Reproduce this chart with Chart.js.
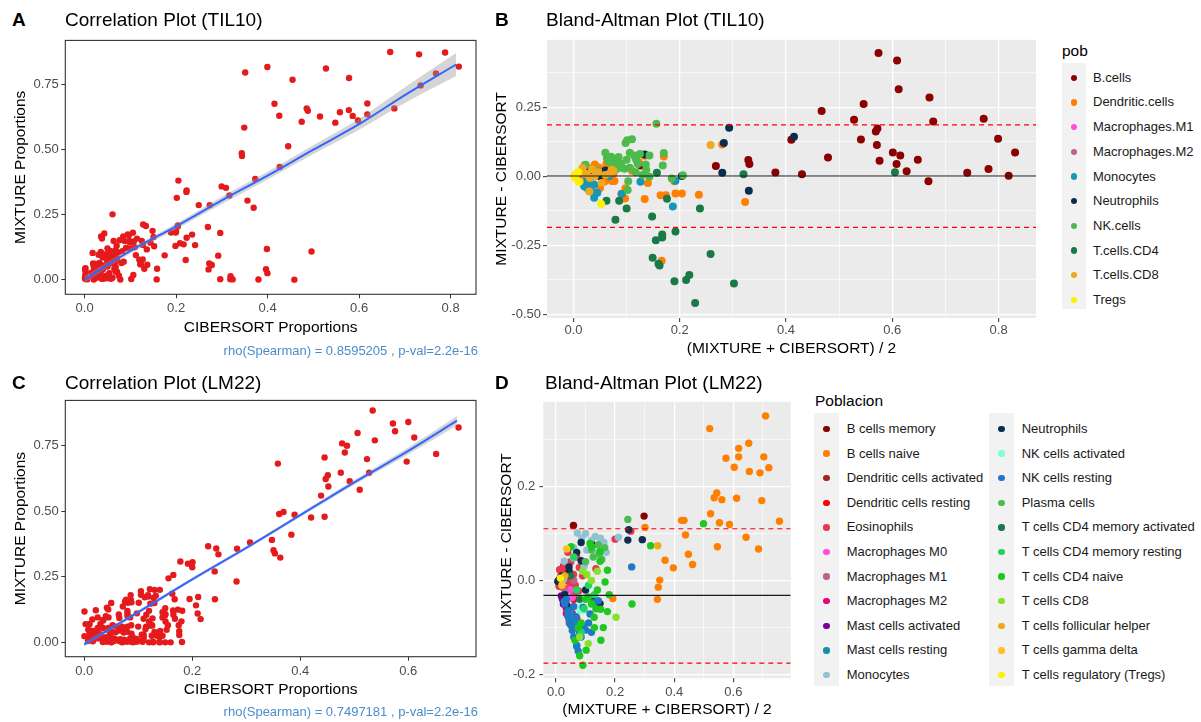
<!DOCTYPE html>
<html><head><meta charset="utf-8"><title>MIXTURE vs CIBERSORT</title>
<script src="https://cdn.jsdelivr.net/npm/chart.js@4.4.1/dist/chart.umd.min.js"></script>
<style>
html,body{margin:0;padding:0;background:#fff}
body{position:relative;width:1201px;height:722px;overflow:hidden;font-family:'Liberation Sans',Arial,sans-serif}
canvas{position:absolute}
.tx{position:absolute;line-height:0;white-space:nowrap;color:#000}
.key{position:absolute;background:#F2F2F2}
.dot{position:absolute;border-radius:50%}
</style></head>
<body>
<canvas id="cA"></canvas><canvas id="cB"></canvas><canvas id="cC"></canvas><canvas id="cD"></canvas>
<script>
const FONT = "'Liberation Sans', Arial, sans-serif";

// ===================== DATA =====================
// TIL10 populations: each point = [ (MIXTURE+CIBERSORT)/2 , MIXTURE-CIBERSORT ]
const popTIL = ['B.cells','Dendritic.cells','Macrophages.M1','Macrophages.M2','Monocytes','Neutrophils','NK.cells','T.cells.CD4','T.cells.CD8','Tregs'];
const colTIL = ['#8B0000','#FF7F00','#FF4FD8','#BF5F8F','#1797B5','#0B2E4F','#4CBB4C','#1A7A47','#F0A820','#FFF000'];
const tilBcells = [[0.574,0.446],[0.609,0.419],[0.612,0.315],[0.670,0.285],[0.677,0.198],[0.546,0.262],[0.467,0.236],[0.528,0.205],[0.772,0.208],[0.572,0.173],[0.569,0.162],[0.541,0.133],[0.799,0.136],[0.571,0.113],[0.831,0.086],[0.601,0.086],[0.615,0.075],[0.479,0.068],[0.648,0.060],[0.576,0.056],[0.608,0.044],[0.781,0.026],[0.627,0.018],[0.741,0.013],[0.380,0.014],[0.430,0.007],[0.819,0.002],[0.668,-0.018],[0.410,0.132],[0.329,0.059],[0.331,0.044],[0.268,0.037],[0.127,0.039]];
const tilDendritic = [[0.166,-0.306],[0.236,-0.067],[0.204,-0.062],[0.192,-0.062],[0.164,-0.069],[0.174,-0.069],[0.134,-0.082],[0.140,-0.024],[0.097,-0.080],[0.090,-0.063],[0.323,-0.093],[0.280,0.115],[0.170,0.072],[0.050,-0.042],[0.077,-0.017],[0.190,-0.018],[0.042,0.036],[0.134,0.074],[0.123,0.051],[0.098,-0.043],[0.072,-0.017],[0.048,0.031],[0.040,0.043],[0.049,-0.038],[0.021,0.040],[0.065,0.030],[0.075,0.008],[0.030,-0.010],[0.058,-0.020],[0.110,0.020],[0.062,0.045],[0.035,0.030]];
const tilMacM1 = [[0.020,0.010],[0.015,-0.005]];
const tilMacM2 = [[0.018,0.000],[0.025,0.005]];
const tilMonocytes = [[0.187,-0.109],[0.039,-0.078],[0.027,-0.044],[0.034,-0.054],[0.022,-0.038],[0.031,-0.032],[0.091,-0.064],[0.126,-0.020],[0.192,-0.016],[0.067,0.000],[0.039,-0.030],[0.072,0.051],[0.025,-0.025],[0.018,-0.020],[0.045,-0.060],[0.020,-0.035]];
const tilNeutrophils = [[0.415,0.143],[0.293,0.176],[0.283,0.120],[0.280,0.013],[0.330,-0.052],[0.134,0.079],[0.060,0.021],[0.058,0.008],[0.028,0.015],[0.030,0.004],[0.204,0.001],[0.045,0.010],[0.035,0.022],[0.050,0.000]];
const tilNK = [[0.156,0.190],[0.098,0.120],[0.101,0.130],[0.110,0.134],[0.060,0.085],[0.106,0.085],[0.114,0.075],[0.125,0.081],[0.143,0.075],[0.170,0.084],[0.168,0.039],[0.071,0.071],[0.083,0.054],[0.121,0.044],[0.136,0.043],[0.137,0.024],[0.089,0.031],[0.096,0.027],[0.106,0.031],[0.117,0.015],[0.206,0.004],[0.185,-0.008],[0.103,-0.018],[0.102,-0.050],[0.143,-0.002],[0.023,0.042],[0.066,0.054],[0.075,0.040],[0.090,0.045],[0.130,0.005],[0.118,0.060],[0.100,0.060],[0.080,0.025],[0.045,0.020],[0.063,0.065],[0.085,0.070]];
const tilCD4 = [[0.229,-0.459],[0.302,-0.388],[0.190,-0.380],[0.218,-0.357],[0.212,-0.375],[0.160,-0.317],[0.162,-0.323],[0.149,-0.295],[0.258,-0.281],[0.192,-0.200],[0.167,-0.211],[0.167,-0.222],[0.155,-0.232],[0.148,-0.146],[0.079,-0.157],[0.238,-0.117],[0.100,-0.117],[0.062,-0.089],[0.086,-0.089],[0.176,-0.081],[0.157,0.013],[0.320,0.007],[0.605,0.015]];
const tilCD8 = [[0.258,0.113],[0.017,0.030],[0.025,0.009],[0.047,0.015],[0.069,0.012],[0.072,0.024],[0.053,-0.024],[0.012,-0.018],[0.031,-0.006],[0.035,0.025],[0.060,0.005],[0.020,0.010],[0.040,0.000],[0.075,0.020],[0.030,-0.055]];
const tilTregs = [[0.052,-0.100],[0.002,0.002],[0.009,0.015],[0.010,-0.020],[0.003,-0.005],[0.005,0.008]];
const groupsTIL = [tilBcells,tilDendritic,tilMacM1,tilMacM2,tilMonocytes,tilNeutrophils,tilNK,tilCD4,tilCD8,tilTregs];
const baTIL_mean = 0.001, baTIL_upper = 0.186, baTIL_lower = -0.185;

// LM22 populations: each point = [ mean , difference ]
const popLM = ['B cells memory','B cells naive','Dendritic cells activated','Dendritic cells resting','Eosinophils','Macrophages M0','Macrophages M1','Macrophages M2','Mast cells activated','Mast cells resting','Monocytes','Neutrophils','NK cells activated','NK cells resting','Plasma cells','T cells CD4 memory activated','T cells CD4 memory resting','T cells CD4 naive','T cells CD8','T cells follicular helper','T cells gamma delta','T cells regulatory (Tregs)'];
const colLM = ['#8B0000','#FF7F00','#A52424','#FF0000','#E8384F','#FF4FD8','#BF5F8F','#E6007E','#7A0099','#1790A5','#8FC3D1','#0B2E4F','#7FFFD4','#1F78C8','#4DBB55','#1A7A47','#1FD660','#1EC81E','#86E22A','#F2A81D','#FFC022','#FFF000'];
const lmBmem = [[0.059,0.117],[0.298,0.137]];
const lmBnaive = [[0.709,0.350],[0.520,0.323],[0.652,0.292],[0.618,0.281],[0.618,0.263],[0.575,0.260],[0.703,0.263],[0.603,0.241],[0.720,0.240],[0.654,0.232],[0.690,0.229],[0.544,0.186],[0.535,0.176],[0.561,0.172],[0.611,0.175],[0.696,0.170],[0.523,0.142],[0.425,0.128],[0.433,0.128],[0.756,0.126],[0.553,0.123],[0.587,0.119],[0.438,0.097],[0.301,0.113],[0.643,0.092],[0.546,0.072],[0.685,0.067],[0.448,0.056],[0.462,0.034],[0.369,0.043],[0.397,0.027],[0.351,0.001],[0.346,-0.014],[0.343,-0.040],[0.192,-0.038]];
const lmDCact = [[0.030,0.010],[0.045,0.005]];
const lmDCrest = [[0.020,0.015],[0.040,0.030],[0.055,-0.020],[0.060,-0.040],[0.025,0.030],[0.035,-0.050],[0.070,-0.080]];
const lmEos = [[0.012,0.023],[0.016,0.009],[0.010,-0.012],[0.025,-0.015],[0.079,0.028],[0.135,0.025],[0.200,0.088],[0.253,0.105],[0.047,-0.005],[0.076,-0.022],[0.030,0.027],[0.059,0.013],[0.038,-0.019],[0.020,0.020],[0.045,0.020],[0.065,-0.010],[0.030,0.000],[0.018,0.010],[0.028,0.035],[0.050,0.040],[0.070,0.050],[0.090,0.010],[0.060,-0.030],[0.040,0.060]];
const lmM0 = [[0.055,-0.036],[0.048,-0.020]];
const lmM1 = [[0.030,-0.020],[0.060,0.000]];
const lmM2 = [[0.045,-0.085],[0.035,-0.060],[0.055,-0.070],[0.035,-0.070]];
const lmMastAct = [[0.018,-0.033],[0.026,-0.049],[0.022,-0.040],[0.025,-0.050]];
const lmMastRest = [[0.034,-0.050],[0.040,-0.064],[0.042,-0.078],[0.050,-0.070],[0.028,-0.045],[0.045,-0.090],[0.055,-0.085],[0.060,-0.100],[0.065,-0.090],[0.070,-0.140]];
const lmMono = [[0.072,0.101],[0.133,0.094],[0.162,0.081],[0.211,0.092],[0.104,0.065],[0.028,0.041],[0.087,0.090],[0.059,0.048],[0.116,0.070],[0.142,0.060],[0.025,0.002],[0.095,0.030],[0.100,0.100],[0.120,0.085],[0.170,0.060],[0.150,0.090],[0.060,0.070]];
const lmNeut = [[0.246,0.108],[0.243,0.086],[0.292,0.087],[0.085,0.081],[0.124,0.075],[0.085,0.042],[0.044,0.029],[0.044,0.019],[0.006,-0.002],[0.010,0.002],[0.039,-0.055],[0.149,-0.049],[0.129,-0.043],[0.070,0.060],[0.100,-0.020],[0.020,0.010],[0.030,-0.030]];
const lmNKact = [[0.087,-0.055],[0.095,-0.062],[0.082,-0.063]];
const lmNKrest = [[0.256,0.029],[0.059,-0.099],[0.070,-0.138],[0.092,-0.097],[0.126,-0.047],[0.115,-0.071],[0.042,-0.064],[0.055,-0.106],[0.092,-0.057],[0.068,-0.077],[0.048,-0.089],[0.143,-0.043],[0.100,-0.105],[0.080,-0.110],[0.035,-0.040],[0.060,-0.055],[0.065,-0.125],[0.050,-0.095],[0.075,-0.150],[0.085,-0.120],[0.110,-0.090],[0.120,-0.110],[0.040,-0.075],[0.030,-0.050],[0.060,-0.120]];
const lmPlasma = [[0.243,0.130],[0.147,0.056],[0.143,0.076],[0.126,0.050],[0.120,0.065],[0.155,0.045],[0.100,0.040],[0.165,0.070]];
const lmCD4ma = [[0.050,0.010],[0.080,-0.040]];
const lmCD4mr = [[0.070,-0.020],[0.095,-0.060],[0.060,0.050],[0.110,-0.010],[0.085,-0.110],[0.130,-0.030]];
const lmCD4n = [[0.499,0.121],[0.320,0.074],[0.257,-0.050],[0.174,0.022],[0.166,-0.003],[0.149,0.041],[0.174,-0.066],[0.152,-0.127],[0.102,-0.148],[0.091,-0.180],[0.064,-0.127],[0.051,0.072],[0.115,0.079],[0.121,0.072],[0.149,0.062],[0.151,-0.061],[0.129,-0.078],[0.109,-0.035],[0.140,-0.020],[0.075,-0.100],[0.085,-0.090],[0.130,-0.100],[0.100,-0.040],[0.120,-0.050],[0.135,-0.060],[0.160,-0.100],[0.180,-0.030],[0.080,-0.160]];
const lmCD8 = [[0.203,-0.078],[0.109,-0.134],[0.104,0.013],[0.090,0.020],[0.120,0.000],[0.140,0.020],[0.080,-0.120]];
const lmTfh = [[0.344,0.074],[0.030,0.010]];
const lmTgd = [[0.036,0.067],[0.020,-0.010]];
const lmTregs = [[0.015,0.005]];
const groupsLM = [lmBmem,lmBnaive,lmDCact,lmDCrest,lmEos,lmM0,lmM1,lmM2,lmMastAct,lmMastRest,lmMono,lmNeut,lmNKact,lmNKrest,lmPlasma,lmCD4ma,lmCD4mr,lmCD4n,lmCD8,lmTfh,lmTgd,lmTregs];
const baLM_mean = -0.0315, baLM_upper = 0.110, baLM_lower = -0.1755;

// smooth fits
const fitTIL_x  = [0, 0.1, 0.2, 0.3, 0.4, 0.5, 0.6, 0.7, 0.812];
const fitTIL_y  = [0.000, 0.110, 0.205, 0.305, 0.400, 0.500, 0.598, 0.710, 0.828];
const fitTIL_lo = [-0.013, 0.100, 0.194, 0.291, 0.385, 0.483, 0.577, 0.680, 0.784];
const fitTIL_hi = [0.013, 0.120, 0.216, 0.319, 0.415, 0.517, 0.619, 0.740, 0.872];
const fitLM_x  = [0, 0.1, 0.2, 0.3, 0.4, 0.5, 0.6, 0.69];
const fitLM_y  = [-0.008, 0.115, 0.240, 0.360, 0.485, 0.610, 0.730, 0.845];
const fitLM_lo = [-0.016, 0.108, 0.234, 0.354, 0.478, 0.601, 0.717, 0.827];
const fitLM_hi = [0.000, 0.122, 0.246, 0.366, 0.492, 0.619, 0.743, 0.863];

// axes: ranges, ticks, labels
const rangeA_x = [-0.0422, 0.8555], rangeA_y = [-0.0569, 0.9208];
const rangeB_x = [-0.0498, 0.8704], rangeB_y = [-0.513, 0.494];
const rangeC_x = [-0.035, 0.7253], rangeC_y = [-0.0548, 0.9224];
const rangeD_x = [-0.043, 0.794], rangeD_y = [-0.2078, 0.38];
const ticksA_x = [0, 0.2, 0.4, 0.6, 0.8], labelsA_x = ['0.0','0.2','0.4','0.6','0.8'];
const ticksA_y = [0, 0.25, 0.5, 0.75], labelsA_y = ['0.00','0.25','0.50','0.75'];
const ticksB_x = [0, 0.2, 0.4, 0.6, 0.8], minorB_x = [0.1, 0.3, 0.5, 0.7], labelsB_x = ['0.0','0.2','0.4','0.6','0.8'];
const ticksB_y = [-0.5, -0.25, 0, 0.25], minorB_y = [-0.375, -0.125, 0.125, 0.375], labelsB_y = ['-0.50','-0.25','0.00','0.25'];
const ticksC_x = [0, 0.2, 0.4, 0.6], labelsC_x = ['0.0','0.2','0.4','0.6'];
const ticksD_x = [0, 0.2, 0.4, 0.6], minorD_x = [0.1, 0.3, 0.5, 0.7], labelsD_x = ['0.0','0.2','0.4','0.6'];
const ticksD_y = [-0.2, 0, 0.2], minorD_y = [-0.1, 0.1, 0.3], labelsD_y = ['-0.2','0.0','0.2'];

// ===================== HELPERS =====================
const toXY = arr => arr.map(p => ({x: p[0], y: p[1]}));
const toCorr = groups => { const out = []; groups.forEach(g => g.forEach(p => out.push({x: p[0] - p[1] / 2, y: p[0] + p[1] / 2}))); return out; };
const curve = (xs, ys) => xs.map((x, i) => ({x, y: ys[i]}));
const near = (list, v) => list.some(m => Math.abs(m - v) < 1e-9);

const panelPlugin = {
  id: 'panel',
  beforeDraw(chart, args, o) {
    if (!o || !o.bg) return;
    const {ctx, chartArea: a} = chart;
    ctx.save(); ctx.fillStyle = o.bg; ctx.fillRect(a.left, a.top, a.right - a.left, a.bottom - a.top); ctx.restore();
  },
  afterDraw(chart, args, o) {
    if (!o || !o.border) return;
    const {ctx, chartArea: a} = chart;
    ctx.save(); ctx.strokeStyle = o.border; ctx.lineWidth = 1.1; ctx.strokeRect(a.left, a.top, a.right - a.left, a.bottom - a.top); ctx.restore();
  }
};

function axis(c) {
  const all = c.major.concat(c.minor || []).sort((a, b) => a - b);
  return {
    type: 'linear', min: c.range[0], max: c.range[1],
    afterBuildTicks: s => { s.ticks = all.map(v => ({value: v})); },
    afterFit: s => { if (c.horiz) s.height = c.size; else s.width = c.size; },
    ticks: {autoSkip: false, maxRotation: 0, minRotation: 0, padding: c.tickPad, color: '#4D4D4D',
      font: {family: FONT, size: 13, lineHeight: 1.2},
      callback: v => { const i = c.major.findIndex(m => Math.abs(m - v) < 1e-9); return i < 0 ? '' : c.labels[i]; }},
    grid: c.grey ? {
      drawOnChartArea: true, color: '#FFFFFF',
      lineWidth: k => (k.tick && near(c.major, k.tick.value)) ? 1.3 : 0.6,
      drawTicks: true, tickLength: 4, tickWidth: 1,
      tickColor: k => (k.tick && near(c.major, k.tick.value)) ? '#333333' : 'rgba(0,0,0,0)'
    } : {drawOnChartArea: false, drawTicks: true, tickLength: 4, tickWidth: 1, tickColor: '#333333'},
    border: {display: false},
    title: {display: true, text: c.title, color: '#000000', font: {family: FONT, size: 15.5, lineHeight: 1.2},
      padding: c.horiz ? {top: 0, bottom: c.titlePad} : {top: c.titlePad, bottom: 0}}
  };
}

function build(id, box, area, xc, yc, datasets, panel) {
  const cv = document.getElementById(id);
  cv.width = box.w; cv.height = box.h;
  Object.assign(cv.style, {left: box.l + 'px', top: box.t + 'px', width: box.w + 'px', height: box.h + 'px'});
  xc.horiz = true; xc.size = box.t + box.h - area.b;
  yc.horiz = false; yc.size = area.l - box.l;
  return new Chart(cv, {
    type: 'scatter',
    data: {datasets},
    options: {
      responsive: false, animation: false, devicePixelRatio: 1, events: [],
      layout: {padding: {left: 0, top: area.t - box.t, right: box.l + box.w - area.r, bottom: 0}},
      plugins: {legend: {display: false}, tooltip: {enabled: false}, panel},
      scales: {x: axis(xc), y: axis(yc)}
    },
    plugins: [panelPlugin]
  });
}

function corrDatasets(groups, fx, fy, flo, fhi) {
  const smooth = {showLine: true, pointRadius: 0, cubicInterpolationMode: 'monotone'};
  return [
    {data: toCorr(groups), backgroundColor: '#E41A1C', pointRadius: 3.2, pointBorderWidth: 0, order: 3},
    Object.assign({data: curve(fx, flo), borderWidth: 1, borderColor: 'rgba(0,0,0,0)', fill: false, order: 2}, smooth),
    Object.assign({data: curve(fx, fhi), borderWidth: 1, borderColor: 'rgba(0,0,0,0)', fill: '-1', backgroundColor: 'rgba(150,150,150,0.4)', order: 2}, smooth),
    Object.assign({data: curve(fx, fy), borderColor: '#3366FF', borderWidth: 2, fill: false, order: 1}, smooth)
  ];
}

function baDatasets(groups, cols, rx, mean, up, lo, r) {
  const n = groups.length;
  const ds = groups.map((g, i) => ({data: toXY(g), backgroundColor: cols[i], pointRadius: r, pointBorderWidth: 0, order: 10 + (n - i)}));
  const h = (v, c, w, dash) => ({data: [{x: rx[0], y: v}, {x: rx[1], y: v}], showLine: true, pointRadius: 0, borderColor: c, borderWidth: w, borderDash: dash, fill: false, order: 0});
  ds.push(h(mean, '#1A1A1A', 1.2, []));
  ds.push(h(up, '#FF0000', 1.1, [5, 4]));
  ds.push(h(lo, '#FF0000', 1.1, [5, 4]));
  return ds;
}

// ===================== CHARTS =====================
build('cA', {l: 0, t: 30, w: 480, h: 335}, {l: 65.3, t: 36.7, r: 478, b: 294.3},
  {range: rangeA_x, major: ticksA_x, labels: labelsA_x, title: 'CIBERSORT Proportions', tickPad: 2, titlePad: 27.7},
  {range: rangeA_y, major: ticksA_y, labels: labelsA_y, title: 'MIXTURE Proportions', tickPad: 2.6, titlePad: 11.7},
  corrDatasets(groupsTIL, fitTIL_x, fitTIL_y, fitTIL_lo, fitTIL_hi), {border: '#333333'});

build('cB', {l: 480, t: 30, w: 560, h: 335}, {l: 547, t: 36, r: 1037, b: 318},
  {range: rangeB_x, major: ticksB_x, minor: minorB_x, labels: labelsB_x, title: '(MIXTURE + CIBERSORT) / 2', tickPad: 1, titlePad: 6.7, grey: true},
  {range: rangeB_y, major: ticksB_y, minor: minorB_y, labels: labelsB_y, title: 'MIXTURE - CIBERSORT', tickPad: 2, titlePad: 12.7, grey: true},
  baDatasets(groupsTIL, colTIL, rangeB_x, baTIL_mean, baTIL_upper, baTIL_lower, 4), {bg: '#EBEBEB'});

build('cC', {l: 0, t: 390, w: 480, h: 335}, {l: 65.3, t: 400, r: 478, b: 656.7},
  {range: rangeC_x, major: ticksC_x, labels: labelsC_x, title: 'CIBERSORT Proportions', tickPad: 3, titlePad: 25.7},
  {range: rangeC_y, major: ticksA_y, labels: labelsA_y, title: 'MIXTURE Proportions', tickPad: 2.6, titlePad: 11.7},
  corrDatasets(groupsLM, fitLM_x, fitLM_y, fitLM_lo, fitLM_hi), {border: '#333333'});

build('cD', {l: 480, t: 390, w: 320, h: 335}, {l: 543.3, t: 398.3, r: 790.7, b: 678.3},
  {range: rangeD_x, major: ticksD_x, minor: minorD_x, labels: labelsD_x, title: '(MIXTURE + CIBERSORT) / 2', tickPad: 2.6, titlePad: 5.7, grey: true},
  {range: rangeD_y, major: ticksD_y, minor: minorD_y, labels: labelsD_y, title: 'MIXTURE - CIBERSORT', tickPad: 4, titlePad: 17.4, grey: true},
  baDatasets(groupsLM, colLM, rangeD_x, baLM_mean, baLM_upper, baLM_lower, 3.7), {bg: '#EBEBEB'});

// ===================== TEXT & LEGENDS =====================
function addText(t, x, yc, o) {
  o = o || {};
  const d = document.createElement('div');
  d.className = 'tx'; d.textContent = t;
  d.style.top = yc + 'px'; d.style.fontSize = (o.size || 13) + 'px';
  if (o.bold) d.style.fontWeight = 'bold';
  if (o.color) d.style.color = o.color;
  d.style.left = x + 'px';
  if (o.right) d.style.transform = 'translateX(-100%)';
  document.body.appendChild(d);
}
function addBox(cls, l, t, w, h, bg) {
  const d = document.createElement('div');
  d.className = cls;
  Object.assign(d.style, {left: l + 'px', top: t + 'px', width: w + 'px', height: h + 'px'});
  if (bg) d.style.background = bg;
  document.body.appendChild(d);
}

addText('A', 12, 20, {size: 19, bold: true});
addText('Correlation Plot (TIL10)', 65, 19.7, {size: 19});
addText('B', 495, 20, {size: 19, bold: true});
addText('Bland-Altman Plot (TIL10)', 546, 19.5, {size: 19});
addText('C', 12, 383, {size: 19, bold: true});
addText('Correlation Plot (LM22)', 65, 382.7, {size: 19});
addText('D', 495, 383, {size: 19, bold: true});
addText('Bland-Altman Plot (LM22)', 545, 382.7, {size: 19});
addText('rho(Spearman) = 0.8595205 , p-val=2.2e-16', 478, 351.2, {size: 13, color: '#4A8CCB', right: true});
addText('rho(Spearman) = 0.7497181 , p-val=2.2e-16', 478, 712.2, {size: 13, color: '#4A8CCB', right: true});

function legend(title, tx, ty, cols, names, colors, keyTop, keyH, row0, step) {
  addText(title, tx, ty, {size: 15.5});
  cols.forEach(c => {
    addBox('key', c.keyL, keyTop, 24.5, keyH);
    for (let i = c.from; i < c.to; i++) {
      const y = row0 + (i - c.from) * step;
      addBox('dot', c.dotX - 3.2, y - 3.2, 6.4, 6.4, colors[i]);
      addText(names[i], c.textX, y, {size: 13, color: '#1A1A1A'});
    }
  });
}
legend('pob', 1062, 51, [{keyL: 1061.7, dotX: 1074, textX: 1093, from: 0, to: 10}], popTIL, colTIL, 63.3, 246, 77.7, 24.7);
legend('Poblacion', 815, 401.3, [
  {keyL: 814, dotX: 826.5, textX: 846.7, from: 0, to: 11},
  {keyL: 989, dotX: 1001.5, textX: 1021.7, from: 11, to: 22}
], popLM, colLM, 413.3, 272.7, 429, 24.6);
</script>
</body></html>
